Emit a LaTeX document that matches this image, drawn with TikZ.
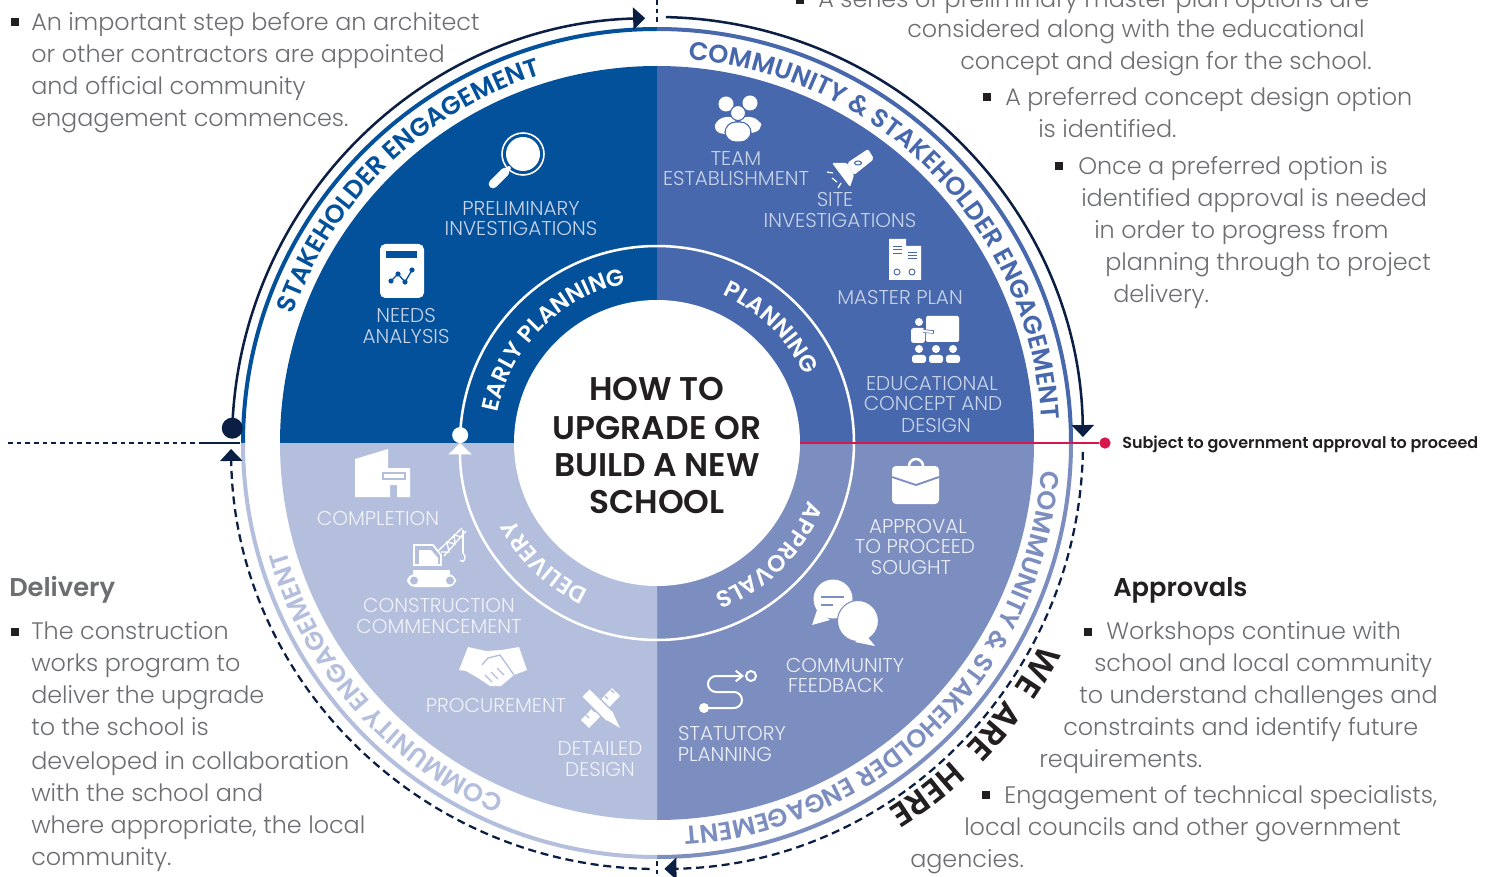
\documentclass[tikz,border=0pt]{standalone}
\usepackage{xcolor}
\usepackage{fontspec}
\setmainfont{Poppins}[UprightFont=* Light,BoldFont=* SemiBold]
\usetikzlibrary{arrows.meta,decorations.text}
\definecolor{earlyblue}{HTML}{03509B}
\definecolor{planblue}{HTML}{4868AD}
\definecolor{approvalblue}{HTML}{7C8DBF}
\definecolor{deliveryblue}{HTML}{B4BEDD}
\definecolor{navyline}{HTML}{0B1F44}
\definecolor{redline}{HTML}{D7174B}
\definecolor{bodygray}{HTML}{6D6E71}
\definecolor{inkblack}{HTML}{231F20}
\definecolor{paleblue}{HTML}{C9D3E8}
\newcommand{\bodyfont}{\fontsize{17.9}{17.9}\selectfont}
\newcommand{\labelfont}{\fontsize{15}{15}\selectfont}
\newcommand{\ringfont}{\fontsize{19.2}{19.2}\selectfont\bfseries}
\newcommand{\phasefont}{\fontsize{17.5}{17.5}\selectfont\bfseries}
\newcommand{\herefont}{\fontsize{25}{25}\selectfont\bfseries}
\tikzset{
  bodyline/.style={anchor=base west, inner sep=0pt, font=\bodyfont, text=bodygray},
  bulletmark/.style={fill=inkblack, inner sep=0pt, minimum size=5.6pt},
  headline/.style={anchor=base west, inner sep=0pt, font=\fontsize{19.3}{19.3}\selectfont\bfseries},
  steplabel/.style={inner sep=0pt, font=\labelfont},
  navyarc/.style={navyline, line width=1.9pt},
  navydash/.style={navyline, line width=1.7pt, dash pattern=on 6pt off 3.6pt},
  navytip/.style={-{Triangle[length=9pt,width=16.5pt]}},
  curved/.style 2 args={decorate, decoration={text along path, text align=center, text={|#1|#2}}}
}
\begin{document}
\begin{tikzpicture}[x=0.75pt,y=-0.75pt]
\clip (0,0) rectangle (1493,877);
\fill[white] (0,0) rectangle (1493,877);

% wheel, angles counted from its centre
\begin{scope}[shift={(657,443)},y=0.75pt]
\foreach \col/\a in {earlyblue/90,planblue/0,approvalblue/-90,deliveryblue/180} {
    \fill[\col] (0,0) -- (\a:377) arc[start angle=\a, delta angle=90, radius=377] -- cycle;
    \draw[\col, line width=3pt] (\a:414) arc[start angle=\a, delta angle=90, radius=414];
}
\fill[white] (0,0) circle (143);

% inner loop
\draw[white, line width=1.9pt, -{Triangle[length=8.5pt,width=17pt]}] (177.7:197) arc[start angle=177.7, delta angle=-357.7, radius=197];
\fill[white] (177.7:197) circle (8);

% outer loop
\fill[navyline] (178:425) circle (10.5);
\draw[navyarc, navytip] (178:425) arc[start angle=178, end angle=91.6, radius=425];
\draw[navyarc, navytip] (88.8:426) arc[start angle=88.8, end angle=0.8, radius=426];
\draw[navydash, navytip] (-1.2:426) arc[start angle=-1.2, end angle=-89, radius=426];
\draw[navydash, navytip] (-91:426) arc[start angle=-91, end angle=-179.2, radius=426];

% curved labels
\path[curved={\ringfont\color{earlyblue}}{STAKEHOLDER ENGAGEMENT}] (179:386) arc[start angle=179, end angle=89, radius=386];
\path[curved={\ringfont\color{planblue}}{COMMUNITY {\&} STAKEHOLDER ENGAGEMENT}] (89.4:385) arc[start angle=89.4, end angle=-0.6, radius=385];
\path[curved={\ringfont\color{approvalblue}}{COMMUNITY {\&} STAKEHOLDER ENGAGEMENT}] (0:385) arc[start angle=0, end angle=-90, radius=385];
\path[curved={\ringfont\color{deliveryblue}}{COMMUNITY ENGAGEMENT}] (266.5:386) arc[start angle=266.5, end angle=176.5, radius=386];
\path[curved={\phasefont\color{white}}{EARLY PLANNING}] (180:162) arc[start angle=180, end angle=90, radius=162];
\path[curved={\phasefont\color{white}}{PLANNING}] (90:162) arc[start angle=90, end angle=0.5, radius=162];
\path[curved={\phasefont\color{white}}{APPROVALS}] (0:162) arc[start angle=0, end angle=-90, radius=162];
\path[curved={\phasefont\color{white}}{DELIVERY}] (271.6:162) arc[start angle=271.6, end angle=181.6, radius=162];
\path[curved={\herefont\color{inkblack}}{WE}] (-11:433) arc[start angle=-11, end angle=-51, radius=433];
\path[curved={\herefont\color{inkblack}}{ARE}] (-20.5:433) arc[start angle=-20.5, end angle=-60.5, radius=433];
\path[curved={\herefont\color{inkblack}}{HERE}] (-32.5:433) arc[start angle=-32.5, end angle=-72.5, radius=433];
\end{scope}

% axis lines
\draw[navyline, line width=1pt, dash pattern=on 3.5pt off 3pt] (8,443) -- (200,443);
\draw[navyline, line width=1.5pt] (200,443) -- (240,443);
\draw[navyline, line width=1pt, dash pattern=on 3.5pt off 3pt] (657,0) -- (657,25);
\draw[navyline, line width=1pt, dash pattern=on 3.5pt off 3pt] (657,861) -- (657,877);
\node[circle, fill=redline, inner sep=0pt, minimum size=8.5pt] (approvaldot) at (1105,443) {};
\coordinate (approvalstart) at (800,443);
\draw[redline, line width=1.5pt] (approvalstart) -- (approvaldot);
\node[anchor=base west, inner sep=0pt, font=\fontsize{12}{12}\selectfont\bfseries, text=inkblack] (approvalnote) at (1122,448) {Subject to government approval to proceed};

% centre title
\foreach \y/\txt [count=\n] in {389/HOW TO,428/UPGRADE OR,465/BUILD A NEW,502/SCHOOL} {
    \node[inner sep=0pt, font=\fontsize{24.6}{24.6}\selectfont\bfseries, text=inkblack] (title\n) at (657,\y) {\txt};
}

% step labels
\foreach \x/\y/\txt [count=\n] in {521/209/PRELIMINARY,521/229/INVESTIGATIONS,406/316/NEEDS,406/337/ANALYSIS} {
    \node[steplabel, text=paleblue] (early\n) at (\x,\y) {\txt};
}
\foreach \x/\y/\txt [count=\n] in {736/159/TEAM,736/179/ESTABLISHMENT,835/200/SITE,840/221/INVESTIGATIONS,900/298/MASTER PLAN,932/384/EDUCATIONAL,933/404/CONCEPT AND,936/425/DESIGN} {
    \node[steplabel, text=paleblue] (plan\n) at (\x,\y) {\txt};
}
\foreach \x/\y/\txt [count=\n] in {918/526/APPROVAL,915/546/TO PROCEED,911/567/SOUGHT,845/665/COMMUNITY,836/685/FEEDBACK,732/733/STATUTORY,725/754/PLANNING} {
    \node[steplabel, text=white!85!approvalblue] (approval\n) at (\x,\y) {\txt};
}
\foreach \x/\y/\txt [count=\n] in {378/518/COMPLETION,439/605/CONSTRUCTION,439/626/COMMENCEMENT,496/705/PROCUREMENT,600/748/DETAILED,600/769/DESIGN} {
    \node[steplabel, text=white!80!deliveryblue] (delivery\n) at (\x,\y) {\txt};
}

% magnifier
\draw[white, line width=1.2pt] (523,154) circle (21);
\fill[white] (523,154) circle (17);
\draw[white, line width=6.5pt, line cap=round] (493,184) -- (505,172);
\draw[white, line width=2.5pt] (505,172) -- (510,167);

% needs analysis
\fill[white, rounded corners=4pt] (380,244) rectangle (424,298);
\fill[earlyblue] (386,251) rectangle (417,258);
\draw[earlyblue, line width=1pt] (391,281) -- (398,274) -- (405,282) -- (412,270);
\foreach \x/\y in {391/281,398/274,405/282,412/270} { \fill[earlyblue] (\x,\y) circle (2.6); }

% team
\fill[white] (726,104) circle (7.5) (750,103) circle (7.5);
\fill[white, rounded corners=6pt] (713,132) -- (717,118) -- (736,116) -- (736,136) -- cycle;
\fill[white, rounded corners=6pt] (763,130) -- (759,118) -- (740,116) -- (740,136) -- cycle;
\fill[white, draw=planblue, line width=.8pt] (738,113) circle (7.5);
\fill[white, draw=planblue, line width=.8pt, rounded corners=8pt] (725,142) -- (725,122) -- (751,122) -- (751,142) -- cycle;

% torch
\fill[white, rounded corners=1.5pt] (847,163) -- (868,149) -- (874,159) -- (854,175) -- cycle;
\fill[white, rounded corners=1pt] (832,163) -- (847,163) -- (854,175) -- (850,187) -- cycle;
\draw[planblue, line width=.8pt] (858,163) ellipse (3.5 and 2);
\draw[white, line width=.9pt] (827,172) -- (833,173) (832,178) -- (837,182) (838,188) -- (841,183);

% master plan
\fill[white] (889,239) rectangle (906,280) (906,246) rectangle (921,280);
\draw[planblue, line width=.7pt] (893,246) -- (902,246) (893,249) -- (902,249) (893,253) -- (902,253) (908,252) -- (917,252) (908,255) -- (917,255) (908,258) -- (917,258);
\draw[planblue, line width=.7pt] (897,272) circle (3) (912,272) circle (3);

% classroom
\fill[white, rounded corners=1pt] (926,316) rectangle (959,342);
\fill[white] (919,322) circle (4);
\fill[white, rounded corners=2pt] (911,343) -- (911,328) -- (925,328) -- (925,343) -- cycle;
\draw[planblue, line width=2.6pt] (923,331) -- (934,332);
\draw[white, line width=1.6pt] (922,331) -- (933,332);
\foreach \x in {919,936,953} {
    \fill[white] (\x,349) circle (4);
    \fill[white, rounded corners=2pt] (\x-7,363) -- (\x-7,355) -- (\x+7,355) -- (\x+7,363) -- cycle;
}

% briefcase
\draw[white, line width=1.9pt] (916,466) circle (7);
\fill[white, rounded corners=3pt] (892,466) rectangle (939,504);
\draw[approvalblue, line width=1.4pt] (892,477) -- (916,485) -- (939,477);

% speech bubbles
\fill[white] (833,599) circle (19.5);
\fill[white] (817,610) -- (812,625) -- (830,620) -- cycle;
\draw[approvalblue, line width=1.8pt] (821,597) -- (844,597) (821,605) -- (833,605);
\fill[white, draw=approvalblue, line width=.8pt] (858,621) circle (20.5);
\fill[white] (866,635) -- (875,646) -- (855,642) -- cycle;

% statutory path
\draw[white, line width=1.5pt, rounded corners=6pt, -{Straight Barb[length=5pt,width=8pt]}] (704,708) -- (742,708) -- (742,692) -- (708,692) -- (708,676) -- (744,676);
\fill[white] (704,708) circle (5);
\draw[white, line width=1.5pt] (751,676) circle (5);

% completion
\fill[white] (355,459) -- (388,449) -- (388,468) -- (410,468) -- (410,497) -- (397,497) -- (397,485) -- (390,485) -- (390,497) -- (355,497) -- cycle;
\draw[deliveryblue, line width=1pt] (383,473) rectangle (405,479);

% crane
\fill[white, rounded corners=6pt] (407,574) rectangle (456,587);
\fill[deliveryblue] (414,580.5) circle (4) (450,580.5) circle (4);
\fill[white] (413,570) rectangle (450,574);
\draw[white, line width=1.3pt] (414,565) -- (414,545) -- (433,545) -- (441,555) -- (441,565) -- cycle;
\fill[white] (419,550) -- (431,550) -- (438,558) -- (438,565) -- (419,565) -- cycle;
\draw[white, line width=1pt] (438,551) -- (462,528) (444,556) -- (466,531) (441,552) -- (449,552) -- (447,542) -- (455,544) -- (454,535) -- (462,537);
\draw[white, line width=.9pt] (463,530) -- (463,553);
\draw[white, line width=1pt] (463,553) .. controls (468,557) and (463,565) .. (460,560);

% handshake
\fill[white] (468,647) -- (486,651) -- (502,650) -- (519,647) -- (527,670) -- (514,675) -- (501,686) -- (490,686) -- (478,678) -- (466,671) -- (459,670) -- cycle;
\draw[deliveryblue, line width=1pt] (482,665) -- (488,658) -- (500,655) -- (514,675);
\draw[deliveryblue, line width=.8pt] (485,675) -- (492,682) (491,672) -- (498,679) (497,668) -- (504,675);

% ruler and pencil
\draw[white, line width=8.5pt] (616,692) -- (585,724);
\draw[deliveryblue, line width=.8pt] (611,690) -- (614,693) (605,696) -- (608,699) (592,709) -- (595,712) (586,715) -- (589,718);
\draw[deliveryblue, line width=10pt] (588,695) -- (610,717);
\draw[white, line width=7.5pt] (586,693) -- (610,717);
\fill[white] (605,719) -- (612,711) -- (620,728) -- cycle;

% bullets
\foreach \x/\y [count=\n] in {15/22,800/0,987/97,1059/166,15/632,1088/632,986/795} {
    \node[bulletmark] (bullet\n) at (\x,\y) {};
}

% notes
\node[headline, text=bodygray] (deliveryhead) at (9,596) {Delivery};
\node[headline, text=inkblack] (approvalhead) at (1113,596) {Approvals};
\foreach \x/\y/\txt [count=\n] in {
    31/31/An important step before an architect,
    31/63/or other contractors are appointed,
    31/95/and official community,
    31/127/engagement commences.,
    818/8/A series of preliminary master plan options are,
    907/38/considered along with the educational,
    960/70/concept and design for the school.,
    1005/106/A preferred concept design option,
    1038/138/is identified.,
    1078/175/Once a preferred option is,
    1081/207/identified approval is needed,
    1094/239/in order to progress from,
    1105/271/planning through to project,
    1113/303/delivery.,
    31/639/The construction,
    31/671/works program to,
    31/703/deliver the upgrade,
    31/735/to the school is,
    31/769/developed in collaboration,
    31/801/with the school and,
    31/833/{where appropriate, the local},
    31/865/community.,
    1106/639/Workshops continue with,
    1094/671/school and local community,
    1079/703/to understand challenges and,
    1063/735/constraints and identify future,
    1039/767/requirements.,
    1004/803/{Engagement of technical specialists,},
    964/835/local councils and other government,
    910/867/agencies.} {
    \node[bodyline] (note\n) at (\x,\y) {\txt};
}
\end{tikzpicture}
\end{document}
